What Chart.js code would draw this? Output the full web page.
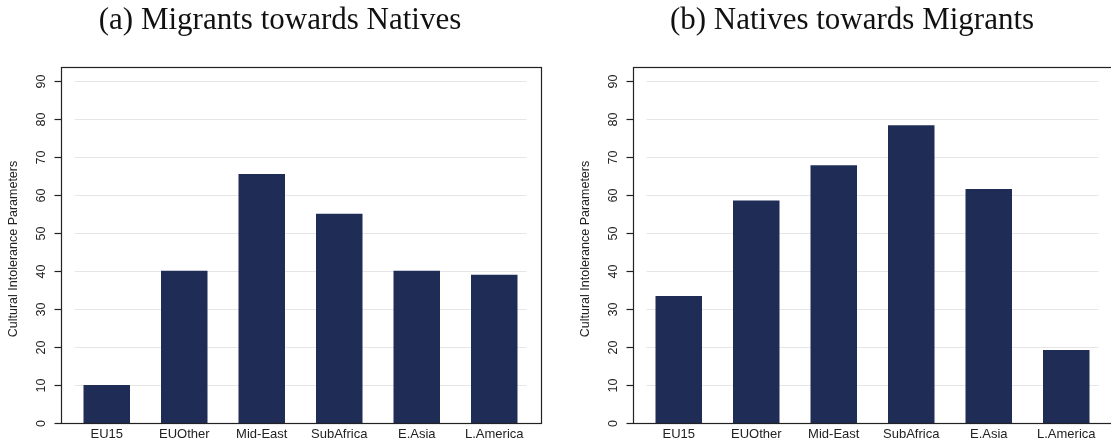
<!DOCTYPE html>
<html>
<head>
<meta charset="utf-8">
<script src="https://cdn.jsdelivr.net/npm/chart.js@4.4.0/dist/chart.umd.min.js"></script>
<style>
  html, body { margin: 0; padding: 0; background: #fff; overflow: hidden; }
  body { width: 1111px; height: 444px; position: relative; }
  .panel { position: absolute; top: 0; width: 560px; height: 444px; overflow: hidden; }
  #panelA { left: 0; }
  #panelB { left: 572px; width: 539px; }
</style>
</head>
<body>
<div class="panel" id="panelA"><canvas id="chartA" width="560" height="444"></canvas></div>
<div class="panel" id="panelB"><canvas id="chartB" width="560" height="444"></canvas></div>
<script>
const regions = ['EU15', 'EUOther', 'Mid-East', 'SubAfrica', 'E.Asia', 'L.America'];
const migrantsTowardsNatives = [10, 40, 65.5, 55, 40, 39];
const nativesTowardsMigrants = [33.4, 58.5, 67.8, 78.3, 61.5, 19.2];
const yTicks = [0, 10, 20, 30, 40, 50, 60, 70, 80, 90];
const titleA = '(a) Migrants towards Natives';
const titleB = '(b) Natives towards Migrants';
const yTitle = 'Cultural Intolerance Parameters';

const BAR_COLOR = '#1f2d56';
const LINE_COLOR = '#222222';
const GRID_COLOR = '#e6e6e6';
const SANS = "'Liberation Sans', Arial, sans-serif";
const SERIF = "'Liberation Serif', 'Times New Roman', serif";

// Stata-like frame: box, light grid, rotated y labels, drawn off the y scale
const stataFrame = {
  id: 'stataFrame',
  beforeDatasetsDraw(chart) {
    const { ctx, chartArea: a, scales: { y } } = chart;
    ctx.save();
    ctx.strokeStyle = GRID_COLOR;
    ctx.lineWidth = 1;
    yTicks.forEach(v => {
      if (v === 0) return;
      const py = Math.round(y.getPixelForValue(v)) + 0.5;
      ctx.beginPath();
      ctx.moveTo(a.left + 6.5, py);
      ctx.lineTo(a.right - 6.5, py);
      ctx.stroke();
    });
    ctx.restore();
  },
  afterDatasetsDraw(chart) {
    const { ctx, chartArea: a, scales: { y } } = chart;
    const boxL = Math.round(a.left - 7.5) + 0.5;
    const boxR = Math.round(a.right + 7.5) + 0.5;
    const boxT = Math.round(a.top) + 0.5;
    const boxB = Math.round(a.bottom) + 0.5;
    ctx.save();
    ctx.strokeStyle = LINE_COLOR;
    ctx.lineWidth = 1.2;
    ctx.strokeRect(boxL, boxT, boxR - boxL, boxB - boxT);

    ctx.fillStyle = LINE_COLOR;
    ctx.font = '12.5px ' + SANS;
    ctx.textAlign = 'center';
    ctx.textBaseline = 'middle';
    yTicks.forEach(v => {
      const py = Math.round(y.getPixelForValue(v)) + 0.5;
      ctx.beginPath();
      ctx.moveTo(boxL - 7, py);
      ctx.lineTo(boxL, py);
      ctx.stroke();
      ctx.save();
      ctx.translate(boxL - 20, py);
      ctx.rotate(-Math.PI / 2);
      ctx.fillText(String(v), 0, 0);
      ctx.restore();
    });

    ctx.save();
    ctx.translate(14, (a.top + a.bottom) / 2 + 4);
    ctx.rotate(-Math.PI / 2);
    ctx.fillText(yTitle, 0, 0);
    ctx.restore();

    // panel title, centred on the whole panel
    ctx.fillStyle = '#111111';
    ctx.font = '31px ' + SERIF;
    ctx.fillText(chart.options.panelTitle, chart.width / 2, 21);
    ctx.restore();
  }
};

function makeChart(canvasId, title, values) {
  return new Chart(document.getElementById(canvasId).getContext('2d'), {
    type: 'bar',
    data: {
      labels: regions,
      datasets: [{
        data: values,
        backgroundColor: BAR_COLOR,
        borderWidth: 0,
        categoryPercentage: 1,
        barPercentage: 0.6
      }]
    },
    options: {
      panelTitle: title,
      responsive: false,
      animation: false,
      layout: { padding: { left: 68, right: 27, top: 67, bottom: 0 } },
      plugins: {
        legend: { display: false },
        tooltip: { enabled: false },
        title: { display: false }
      },
      scales: {
        x: {
          grid: { display: false, drawTicks: false },
          border: { display: false },
          ticks: { color: LINE_COLOR, font: { family: SANS, size: 13 }, padding: 4, maxRotation: 0 },
          afterFit(scale) { scale.height = 21; }
        },
        y: {
          display: false,
          min: 0,
          max: 93.6
        }
      }
    },
    plugins: [stataFrame]
  });
}

makeChart('chartA', titleA, migrantsTowardsNatives);
makeChart('chartB', titleB, nativesTowardsMigrants);
</script>
</body>
</html>
